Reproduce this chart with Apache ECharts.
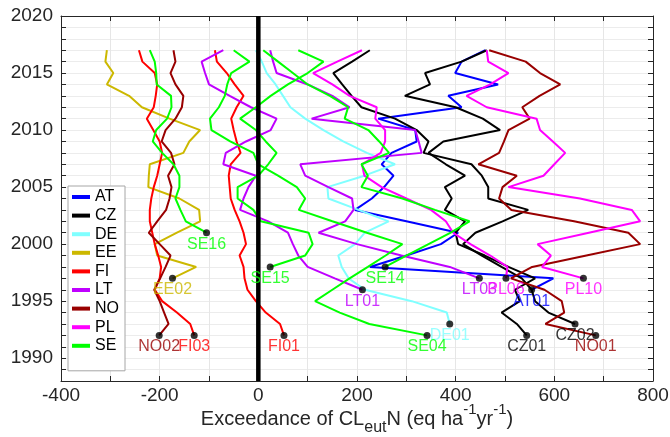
<!DOCTYPE html>
<html><head><meta charset="utf-8">
<script src="https://cdn.jsdelivr.net/npm/echarts@6/dist/echarts.min.js"></script>
<style>html,body{margin:0;padding:0;background:#fff}#c{width:670px;height:437px}</style>
</head><body><div id="c"></div>
<script>
// ---- data ----
const countries = ['AT','CZ','DE','EE','FI','LT','NO','PL','SE'];
const countryColors = ['#0000ff','#000000','#80ffff','#ccb800','#ff0000','#bf00ff','#990000','#ff00ff','#00ff00'];

const stationNames     = ['AT01','CZ01','CZ02','DE01','EE02','FI01','FI03','LT01','LT03','NO01','NO02','PL06','PL10','SE04','SE14','SE15','SE16'];
const stationCountries = ['AT','CZ','CZ','DE','EE','FI','FI','LT','LT','NO','NO','PL','PL','SE','SE','SE','SE'];
const stationStartYears= [1996,1992,1993,1993,1997,1992,1992,1996,1997,1992,1992,1997,1997,1992,1998,1998,2001];

// exceedance values, one per year from the start year to 2017
const AT01 = [554,598,226,300,370,405,300,196,230,255,274,250,270,321,318,243,412,385,486,399,412,460];
const CZ01 = [544,524,493,530,520,561,507,459,405,400,419,378,392,378,419,380,345,375,490,455,400,297,348,338,412,463];
const CZ02 = [642,588,561,554,534,493,453,415,440,495,547,466,466,453,432,335,345,321,277,209,189,170,152,190,226];
const DE01 = [388,382,311,216,183,169,162,196,216,264,203,142,140,215,277,220,172,132,95,65,50,35,17,7,-5];
const EE02 = [-174,-126,-205,-210,-165,-118,-120,-160,-223,-222,-220,-152,-140,-118,-180,-236,-262,-307,-294,-310,-307];
const FI01 = [52,44,15,-5,-22,-28,-30,-38,-25,-30,-38,-48,-56,-58,-60,-56,-36,-44,-50,-55,-44,-30,-48,-64,-84,-88];
const FI03 = [-130,-138,-165,-195,-210,-200,-197,-203,-210,-215,-220,-220,-217,-212,-205,-200,-195,-200,-213,-226,-212,-208,-205,-210,-235,-242];
const LT01 = [211,155,100,81,70,60,20,-37,-30,-20,-5,-71,-66,-25,25,37,-15,-58,-100,-108,-115,-71];
const LT03 = [448,388,290,200,122,176,193,190,142,95,85,331,325,318,108,185,150,100,37,30,24];
const NO01 = [684,582,620,615,580,512,555,665,774,750,640,513,488,495,524,446,488,498,507,550,535,570,612,571,542,468];
const NO02 = [-201,-182,-191,-200,-211,-199,-188,-178,-200,-222,-205,-187,-180,-176,-183,-170,-177,-196,-188,-168,-155,-152,-168,-178,-168,-172];
const PL06 = [502,505,470,430,395,380,350,300,250,215,210,248,257,257,237,240,185,150,111,160,210];
const PL10 = [659,575,593,566,670,774,757,652,507,578,600,622,597,571,564,463,422,470,507,466,463];
const SE04 = [342,225,165,115,150,185,222,258,292,220,150,82,95,78,40,0,-10,-57,-95,-98,-80,-68,-63,-55,-18,-50];
const SE14 = [257,300,345,390,428,358,292,209,222,209,265,245,223,175,182,145,100,70,40,10];
const SE15 = [24,95,110,102,5,-10,-42,-42,0,20,37,15,-5,-37,-5,25,60,100,132,81];
const SE16 = [-105,-147,-158,-168,-160,-160,-172,-195,-214,-207,-185,-176,-177,-206,-207,-210,-220];
const stationValues = [AT01,CZ01,CZ02,DE01,EE02,FI01,FI03,LT01,LT03,NO01,NO02,PL06,PL10,SE04,SE14,SE15,SE16];

const xMin = -400, xMax = 800, xStep = 100, xLabelStep = 200;
const yMin = 1988, yMax = 2020, yStep = 1, yLabelStep = 5;
const zeroLine = [[0, yMin], [0, yMax]];

// ---- chart ----
const FONT = '"Liberation Sans", Arial, Helvetica, sans-serif';
const AX = '#262626';
const colorOf = c => countryColors[countries.indexOf(c)];

const series = [];
countries.forEach(c => {
  stationNames.forEach((s, i) => {
    if (stationCountries[i] !== c) return;
    const vals = stationValues[i];
    series.push({
      type: 'line', name: c, color: colorOf(c),
      data: vals.map((v, k) => [v, stationStartYears[i] + k]),
      symbol: 'none', showSymbol: false, silent: true, animation: false,
      lineStyle: { width: 2, color: colorOf(c) }, z: 2
    });
  });
});
series.push({
  type: 'line', name: 'zero', data: zeroLine, symbol: 'none', silent: true, animation: false,
  lineStyle: { width: 4.5, color: '#000' }, z: 3
});
series.push({
  type: 'scatter', name: 'start', silent: true, animation: false, z: 4,
  symbol: 'circle', symbolSize: 7, itemStyle: { color: '#000' },
  data: stationNames.map((s, i) => ({
    name: s, value: [stationValues[i][0], stationStartYears[i]],
    label: { color: colorOf(stationCountries[i]) }
  })),
  label: { show: true, position: 'bottom', distance: 0, formatter: p => p.name,
           fontSize: 16, fontFamily: FONT }
});

const baseX = {
  type: 'value', min: xMin, max: xMax, interval: xStep,
  axisLine: { show: true, onZero: false, lineStyle: { color: AX, width: 1 } },
  axisTick: { show: true, inside: true, length: 5, lineStyle: { color: AX } }
};
const baseY = {
  type: 'value', min: yMin, max: yMax, interval: yStep,
  axisLine: { show: true, onZero: false, lineStyle: { color: AX, width: 1 } },
  axisTick: { show: true, inside: true, length: 5, lineStyle: { color: AX } }
};

const option = {
  animation: false,
  backgroundColor: '#fff',
  grid: { left: 61, right: 17, top: 16, bottom: 56, containLabel: false, outerBoundsMode: 'none' },
  legend: {
    data: countries, orient: 'vertical', left: 68, top: 186,
    padding: [3, 6, 17, 4], itemGap: 2.6, itemWidth: 18, itemHeight: 4, icon: 'rect',
    borderColor: '#a6a6a6', borderWidth: 1, backgroundColor: '#fff',
    textStyle: { fontSize: 16, fontFamily: FONT, color: '#000', lineHeight: 16 },
    selectedMode: false
  },
  xAxis: [
    Object.assign({}, baseX, {
      position: 'bottom',
      axisLabel: { fontSize: 19, fontFamily: FONT, color: AX, margin: 5,
                   formatter: v => (v % xLabelStep === 0 ? String(v) : '') },
      splitLine: { show: true, lineStyle: { color: '#e6e6e6', width: 1 } },
      name: '{a|Exceedance of CL}{b|eut}{a|N (eq ha}{c|-1}{a|yr}{c|-1}{a|)}',
      nameLocation: 'middle', nameGap: 21, nameMoveOverlap: false,
      nameTextStyle: { rich: {
        a: { fontSize: 20, fontFamily: FONT, color: AX, lineHeight: 34 },
        b: { fontSize: 16, fontFamily: FONT, color: AX, lineHeight: 16, verticalAlign: 'bottom' },
        c: { fontSize: 15, fontFamily: FONT, color: AX, lineHeight: 10, verticalAlign: 'top' }
      } }
    }),
    Object.assign({}, baseX, { position: 'top', axisLabel: { show: false }, splitLine: { show: false } })
  ],
  yAxis: [
    Object.assign({}, baseY, {
      position: 'left',
      axisLabel: { fontSize: 19, fontFamily: FONT, color: AX, margin: 8,
                   formatter: v => (v % yLabelStep === 0 ? String(v) : '') },
      splitLine: { show: true, lineStyle: { color: '#ececec', width: 1 } }
    }),
    Object.assign({}, baseY, { position: 'right', axisLabel: { show: false }, splitLine: { show: false } })
  ],
  series: series
};

const chart = echarts.init(document.getElementById('c'), null, { renderer: 'canvas' });
chart.setOption(option);
</script>
</body></html>
